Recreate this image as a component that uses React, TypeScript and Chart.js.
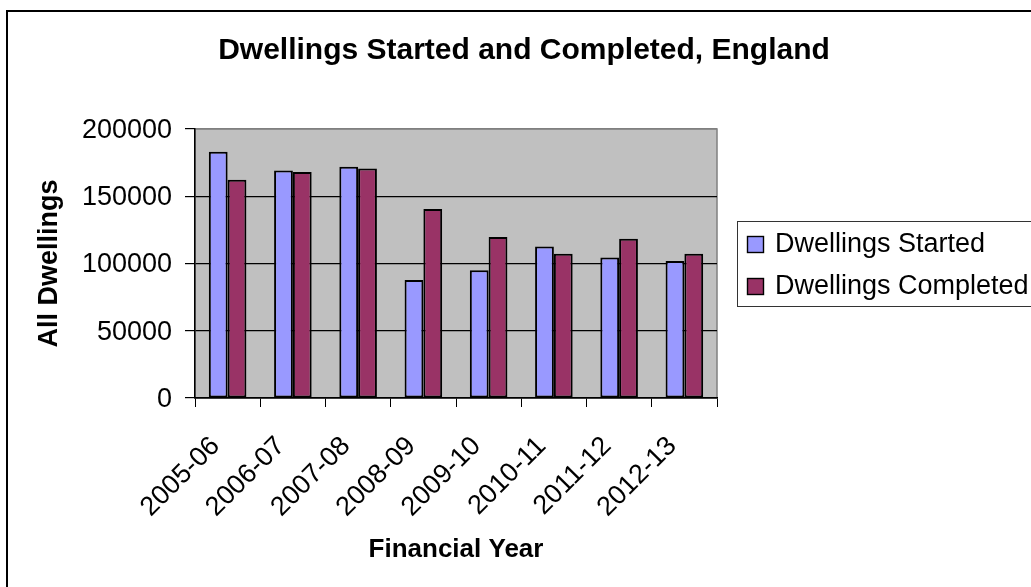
import React, { useEffect, useRef } from 'react';
import { Chart, registerables } from 'chart.js';

Chart.register(...registerables);

const categories = ['2005-06', '2006-07', '2007-08', '2008-09', '2009-10', '2010-11', '2011-12', '2012-13'];
const startedValues = [183100, 169200, 172000, 87700, 94900, 112700, 104500, 101900];
const completedValues = [162300, 168000, 170700, 140500, 119700, 107300, 118400, 107300];
const yTickValues = [0, 50000, 100000, 150000, 200000];
const seriesLabels = ['Dwellings Started', 'Dwellings Completed'];
const titleText = 'Dwellings Started and Completed, England';
const xTitleText = 'Financial Year';
const yTitleText = 'All Dwellings';

const FONT = "'Liberation Sans', Arial, Helvetica, sans-serif";
const W = 1031;
const H = 587;

const framePlugin = {
  id: 'frame',
  beforeDraw(chart: any) {
    const { ctx, chartArea } = chart;
    ctx.save();
    ctx.fillStyle = '#ffffff';
    ctx.fillRect(0, 0, chart.width, chart.height);
    ctx.strokeStyle = '#000000';
    ctx.lineWidth = 2;
    ctx.strokeRect(7, 11, chart.width + 50, chart.height + 50);
    ctx.fillStyle = '#C0C0C0';
    ctx.fillRect(chartArea.left, chartArea.top, chartArea.right - chartArea.left, chartArea.bottom - chartArea.top);
    ctx.strokeStyle = '#808080';
    ctx.lineWidth = 1.5;
    ctx.strokeRect(chartArea.left, chartArea.top, chartArea.right - chartArea.left, chartArea.bottom - chartArea.top);
    ctx.restore();
  },
};

const legendBoxPlugin = {
  id: 'legendBox',
  afterDraw(chart: any) {
    const { ctx } = chart;
    const o = chart.options.plugins.legendBox;
    ctx.save();
    ctx.strokeStyle = '#333333';
    ctx.lineWidth = 1;
    ctx.strokeRect(o.left + 0.5, o.top + 0.5, 400, o.height);
    chart.data.datasets.forEach((ds: any, i: number) => {
      const y = o.firstY + i * o.step;
      ctx.fillStyle = ds.backgroundColor;
      ctx.fillRect(o.markerX, y, o.box, o.box);
      ctx.strokeStyle = '#000000';
      ctx.lineWidth = 1.4;
      ctx.strokeRect(o.markerX + 0.5, y + 0.5, o.box - 1, o.box - 1);
      ctx.fillStyle = '#000000';
      ctx.font = `27px ${FONT}`;
      ctx.textBaseline = 'middle';
      ctx.textAlign = 'left';
      ctx.fillText(ds.label, o.textX, y + o.box / 2);
    });
    ctx.restore();
  },
};

export default function App() {
  const canvasRef = useRef<HTMLCanvasElement | null>(null);

  useEffect(() => {
    document.body.style.margin = '0';
    document.body.style.overflow = 'hidden';
    const canvas = canvasRef.current;
    if (!canvas) return;
    const chart = new Chart(canvas, {
      type: 'bar',
      data: {
        labels: categories,
        datasets: [
          {
            label: seriesLabels[0],
            data: startedValues,
            backgroundColor: '#9999FF',
            borderColor: '#000000',
            borderWidth: 2,
            borderSkipped: false,
            categoryPercentage: 0.576,
            barPercentage: 1,
          },
          {
            label: seriesLabels[1],
            data: completedValues,
            backgroundColor: '#993366',
            borderColor: '#000000',
            borderWidth: 2,
            borderSkipped: false,
            categoryPercentage: 0.576,
            barPercentage: 1,
          },
        ],
      },
      options: {
        responsive: false,
        animation: false,
        devicePixelRatio: 1,
        layout: { padding: { left: 17, right: 0, top: 0, bottom: 0 } },
        plugins: {
          legend: { display: false },
          tooltip: { enabled: false },
          title: {
            display: true,
            text: titleText,
            color: '#000000',
            font: { family: FONT, size: 30, weight: 'bold' },
            padding: { top: 33, bottom: 60 },
          },
          legendBox: { left: 737, top: 221, height: 85, markerX: 747, firstY: 236, step: 42, box: 17, textX: 775 },
        } as any,
        scales: {
          x: {
            grid: {
              display: true,
              drawOnChartArea: false,
              drawTicks: true,
              tickLength: 9,
              color: '#000000',
              tickColor: '#000000',
              offset: true,
            },
            border: { display: true, color: '#000000', width: 1.5 },
            ticks: {
              color: '#000000',
              font: { family: FONT, size: 27 },
              minRotation: 45,
              maxRotation: 45,
              autoSkip: false,
              labelOffset: -12,
              padding: 23.4,
            },
            title: {
              display: true,
              text: xTitleText,
              color: '#000000',
              font: { family: FONT, size: 26, weight: 'bold' },
              padding: { top: 0, bottom: 21.4 },
            },
            afterFit: (scale: any) => {
              scale.height = 189;
            },
          },
          y: {
            min: 0,
            max: 200000,
            grid: {
              color: (ctx: any) => (ctx.tick && ctx.tick.value === 200000 ? '#808080' : '#000000'),
              tickColor: '#000000',
              tickLength: 10,
              lineWidth: 1.2,
            },
            border: { display: true, color: '#000000', width: 1.5 },
            afterBuildTicks: (scale: any) => {
              scale.ticks = yTickValues.map((v) => ({ value: v }));
            },
            ticks: {
              color: '#000000',
              font: { family: FONT, size: 27 },
              padding: 13,
              labelOffset: 1.5,
              callback: (v: any) => String(v),
            },
            title: {
              display: true,
              text: yTitleText,
              color: '#000000',
              font: { family: FONT, size: 27, weight: 'bold' },
              padding: { top: 16.8, bottom: 0 },
            },
            afterFit: (scale: any) => {
              scale.width = 178;
            },
          },
          spacer: {
            type: 'linear',
            position: 'right',
            display: true,
            grid: { display: false },
            border: { display: false },
            ticks: { display: false },
            afterFit: (scale: any) => {
              scale.width = 314;
            },
          },
        } as any,
      },
      plugins: [framePlugin, legendBoxPlugin],
    });
    return () => chart.destroy();
  }, []);

  return (
    <div style={{ width: W, height: H }}>
      <canvas ref={canvasRef} width={W} height={H} style={{ display: 'block' }} />
    </div>
  );
}
